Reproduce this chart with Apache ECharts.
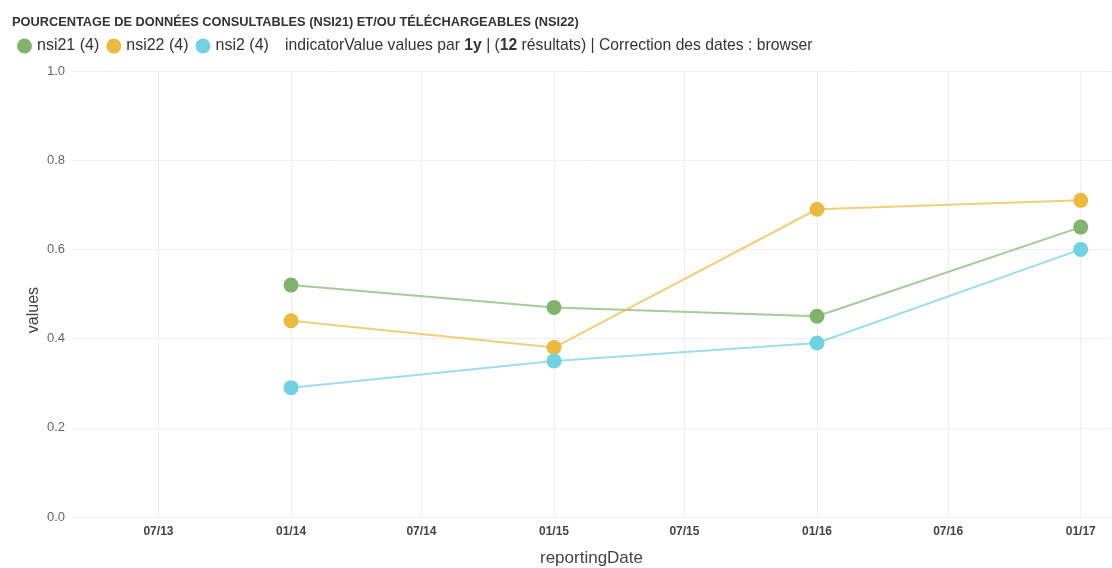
<!DOCTYPE html>
<html>
<head>
<meta charset="utf-8">
<style>
  html, body { margin: 0; padding: 0; background: #fff; }
  #chart { width: 1112px; height: 568px; }
</style>
<script src="https://cdn.jsdelivr.net/npm/echarts@6/dist/echarts.min.js"></script>
</head>
<body>
<div id="chart"></div>
<script>
// données
const dates = ['2014-01-01', '2015-01-01', '2016-01-01', '2017-01-01'];
const nsi21 = [0.52, 0.47, 0.45, 0.65];
const nsi22 = [0.44, 0.38, 0.69, 0.71];
const nsi2 = [0.29, 0.35, 0.39, 0.60];
const seriesNames = ['nsi21 (4)', 'nsi22 (4)', 'nsi2 (4)'];
const colors = ['#80b46c', '#ecb93f', '#6fd1e1'];

const font = '"Liberation Sans", Arial, sans-serif';

const chart = echarts.init(document.querySelector('#chart'));

const toPairs = (vals) => vals.map((v, i) => [dates[i], v]);

chart.setOption({
    animation: false,
    color: colors,
    textStyle: { fontFamily: font },
    title: [
        {
            text: 'POURCENTAGE DE DONNÉES CONSULTABLES (NSI21) ET/OU TÉLÉCHARGEABLES (NSI22)',
            left: 7,
            top: 11,
            textStyle: { fontSize: 12.8, fontWeight: 'bold', color: '#333', fontFamily: font }
        },
        {
            text: 'indicatorValue values par {b|1y} | ({b|12} résultats) | Correction des dates : browser',
            left: 280,
            top: 33,
            textStyle: {
                fontSize: 15.7, fontWeight: 'normal', color: '#333', fontFamily: font,
                rich: { b: { fontSize: 15.7, fontWeight: 'bold', color: '#333', fontFamily: font } }
            }
        }
    ],
    legend: {
        data: seriesNames,
        left: 12,
        top: 33,
        icon: 'circle',
        itemWidth: 15,
        itemHeight: 15,
        itemGap: 7,
        textStyle: { fontSize: 16, color: '#333', fontFamily: font }
    },
    grid: {
        left: 72,
        right: 1,
        top: 71,
        bottom: 51,
        outerBoundsMode: 'none'
    },
    xAxis: {
        type: 'time',
        min: '2013-03-03',
        max: '2017-02-12',
        name: 'reportingDate',
        nameLocation: 'middle',
        nameGap: 33,
        nameMoveOverlap: false,
        nameTextStyle: { fontSize: 17, color: '#444', fontFamily: font },
        axisLine: { show: true, lineStyle: { color: '#eee' } },
        axisTick: { show: false },
        axisLabel: {
            formatter: '{MM}/{yy}',
            color: '#444',
            fontSize: 12,
            fontWeight: 'bold',
            margin: 9,
            fontFamily: font
        },
        splitLine: { show: true, showMinLine: false, showMaxLine: false, lineStyle: { color: '#eee' } }
    },
    yAxis: {
        type: 'value',
        min: 0,
        max: 1,
        interval: 0.2,
        name: 'values',
        nameLocation: 'middle',
        nameGap: 30,
        nameMoveOverlap: false,
        nameTextStyle: { fontSize: 16, color: '#444', fontFamily: font, padding: [0, 32, 0, 0] },
        axisLine: { show: false },
        axisTick: { show: false },
        axisLabel: {
            formatter: (v) => v.toFixed(1),
            color: '#666',
            fontSize: 13,
            margin: 7,
            fontFamily: font
        },
        splitLine: { lineStyle: { color: '#eee' } }
    },
    series: [
        { name: seriesNames[0], type: 'line', data: toPairs(nsi21) },
        { name: seriesNames[1], type: 'line', data: toPairs(nsi22) },
        { name: seriesNames[2], type: 'line', data: toPairs(nsi2) }
    ].map((s) => Object.assign(s, {
        symbol: 'circle',
        symbolSize: 15,
        lineStyle: { width: 2, opacity: 0.7 },
        itemStyle: { opacity: 1 }
    }))
});
</script>
</body>
</html>
